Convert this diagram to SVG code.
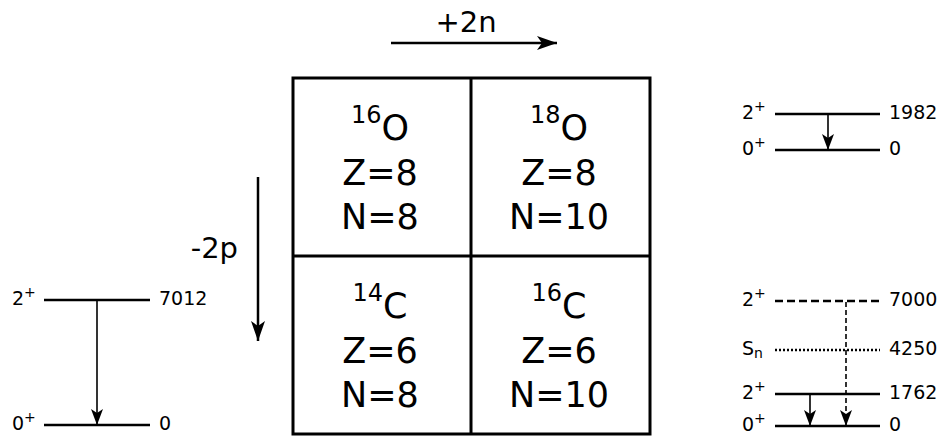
<svg xmlns="http://www.w3.org/2000/svg" width="940" height="436" viewBox="0 0 940 436">
<style>
text{font-family:"DejaVu Sans",sans-serif;fill:#000}
.cell{font-size:35px;text-anchor:middle}
.sup{font-size:24px}
.lab{font-size:29px}
.lv{font-size:19px}
.lvs{font-size:14px}
.box{fill:none;stroke:#000;stroke-width:3}
.lvl{stroke:#000;stroke-width:2.5;fill:none}
.g{stroke:#000;stroke-width:1.6;fill:none}
</style>
<defs>
<marker id="big" markerUnits="userSpaceOnUse" markerWidth="22" markerHeight="14" refX="20" refY="7" orient="auto"><path d="M0,0 L20,7 L0,14 L5,7 Z" fill="#000"/></marker>
<marker id="sm" markerUnits="userSpaceOnUse" markerWidth="18" markerHeight="12" refX="16" refY="6" orient="auto"><path d="M0,0 L16,6 L0,12 L4,6 Z" fill="#000"/></marker>
</defs>
<g id="connectors">
<line x1="391" y1="43" x2="557" y2="43" stroke="#000" stroke-width="2.5" marker-end="url(#big)"/>
<line x1="258" y1="177" x2="258" y2="341" stroke="#000" stroke-width="2.5" marker-end="url(#big)"/>
<line class="g" x1="97" y1="301" x2="97" y2="425" marker-end="url(#sm)"/>
<line class="g" x1="828" y1="115" x2="828" y2="150" marker-end="url(#sm)"/>
<line class="g" x1="810" y1="395" x2="810" y2="426" marker-end="url(#sm)"/>
<line class="g" x1="846" y1="302" x2="846" y2="426" stroke-dasharray="5,3" marker-end="url(#sm)"/>
</g>
<text class="lab" x="466" y="32" text-anchor="middle">+2n</text>
<text class="lab" x="238" y="258" text-anchor="end">-2p</text>
<g id="grid">
<rect class="box" x="293" y="78" width="357" height="356"/>
<line class="box" x1="471" y1="78" x2="471" y2="434"/>
<line class="box" x1="293" y1="256" x2="650" y2="256"/>
</g>
<g id="O16">
<text class="cell" x="380" y="140"><tspan class="sup" dy="-17">16</tspan><tspan dy="17">O</tspan></text>
<text class="cell" x="380" y="185">Z=8</text>
<text class="cell" x="380" y="229">N=8</text>
</g>
<g id="O18">
<text class="cell" x="559" y="140"><tspan class="sup" dy="-17">18</tspan><tspan dy="17">O</tspan></text>
<text class="cell" x="559" y="185">Z=8</text>
<text class="cell" x="559" y="229">N=10</text>
</g>
<g id="C14">
<text class="cell" x="380" y="318"><tspan class="sup" dy="-17">14</tspan><tspan dy="17">C</tspan></text>
<text class="cell" x="380" y="363">Z=6</text>
<text class="cell" x="380" y="407">N=8</text>
</g>
<g id="C16">
<text class="cell" x="559" y="318"><tspan class="sup" dy="-17">16</tspan><tspan dy="17">C</tspan></text>
<text class="cell" x="559" y="363">Z=6</text>
<text class="cell" x="559" y="407">N=10</text>
</g>
<g id="levels-C14">
<line class="lvl" x1="44" y1="300" x2="150" y2="300"/>
<line class="lvl" x1="44" y1="425" x2="150" y2="425"/>
<text class="lv" x="12" y="305">2<tspan class="lvs" dy="-8">+</tspan></text>
<text class="lv" x="12" y="430">0<tspan class="lvs" dy="-8">+</tspan></text>
<text class="lv" x="159" y="305">7012</text>
<text class="lv" x="159" y="430">0</text>
</g>
<g id="levels-O18">
<line class="lvl" x1="775" y1="114" x2="880" y2="114"/>
<line class="lvl" x1="775" y1="150" x2="880" y2="150"/>
<text class="lv" x="742" y="119">2<tspan class="lvs" dy="-8">+</tspan></text>
<text class="lv" x="742" y="155">0<tspan class="lvs" dy="-8">+</tspan></text>
<text class="lv" x="889" y="119">1982</text>
<text class="lv" x="889" y="155">0</text>
</g>
<g id="levels-C16">
<line class="lvl" x1="775" y1="301" x2="880" y2="301" stroke-dasharray="8,4"/>
<line class="lvl" x1="775" y1="350" x2="880" y2="350" stroke-dasharray="2,2"/>
<line class="lvl" x1="775" y1="394" x2="880" y2="394"/>
<line class="lvl" x1="775" y1="426" x2="880" y2="426"/>
<text class="lv" x="742" y="306">2<tspan class="lvs" dy="-8">+</tspan></text>
<text class="lv" x="742" y="355">S<tspan class="lvs" dy="3">n</tspan></text>
<text class="lv" x="742" y="399">2<tspan class="lvs" dy="-8">+</tspan></text>
<text class="lv" x="742" y="431">0<tspan class="lvs" dy="-8">+</tspan></text>
<text class="lv" x="889" y="306">7000</text>
<text class="lv" x="889" y="355">4250</text>
<text class="lv" x="889" y="399">1762</text>
<text class="lv" x="889" y="431">0</text>
</g>
</svg>
